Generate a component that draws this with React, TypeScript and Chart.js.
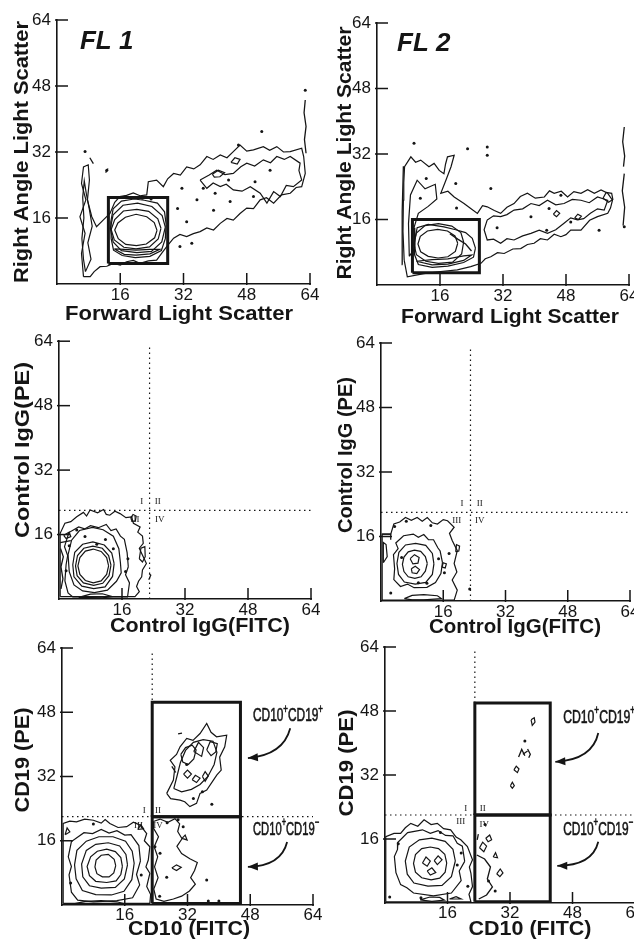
import React, { useEffect, useRef } from 'react';
import { Chart, registerables } from 'chart.js';

Chart.register(...registerables);

type Pt = [number, number];

const INK = '#151515';
const SANS = '"Liberation Sans", Arial, Helvetica, sans-serif';
const NARROW = '"Liberation Sans Narrow", "Liberation Sans", Arial, sans-serif';

const tickValues = [16, 32, 48, 64];
const axisMin = 0;
const axisMax = 64;
const quadX = 23;
const quadY = 22;
const quadNames = ['I', 'II', 'III', 'IV'];

// ---------------- FL 1 : forward vs right-angle scatter ----------------
const fl1Contours: Pt[][] = [
  [[6.7,1.8],[6.2,7.4],[7.1,12.3],[5.8,16.3],[7.3,20.4],[6.2,24.4],[6.7,28.4],[7.9,28.9],[8.2,25.2],[7.7,20.4],[8.8,16.3],[10.0,13.9],[11.8,15.6],[13.4,17.1],[14.6,19.8],[15.9,21.2],[17.6,21.5],[19.3,22.1],[21.0,21.4],[22.7,21.6],[23.1,24.8],[25.2,25.2],[26.9,23.6],[28.0,25.5],[29.5,26.8],[31.2,26.4],[32.8,28.4],[34.6,27.9],[36.2,28.9],[37.9,30.9],[39.5,30.2],[41.3,31.3],[43.0,30.6],[44.6,32.1],[46.3,33.7],[48.0,32.2],[49.7,32.5],[52.2,33.3],[53.8,32.4],[55.6,33.3],[57.3,32.0],[59.0,32.1],[61.9,32.9],[62.4,30.9],[62.8,26.8],[61.9,23.6],[60.5,23.4],[59.0,22.0],[56.8,21.6],[54.8,19.6],[53.0,20.9],[51.4,20.4],[49.7,18.3],[48.0,18.4],[46.3,17.1],[44.6,15.5],[43.0,15.9],[41.3,14.7],[39.6,13.1],[37.9,13.6],[36.2,12.7],[34.5,12.2],[32.8,11.5],[31.1,12.0],[29.5,11.1],[27.8,9.1],[26.6,7.6],[25.2,5.8],[23.1,5.6],[21.0,5.0],[19.3,5.7],[17.6,5.4],[16.0,4.6],[14.3,5.0],[12.6,4.3],[10.9,4.2],[9.4,3.0],[8.4,1.8]],
  [[36.2,25.2],[38.5,26.4],[40.4,27.6],[42.5,26.5],[44.6,26.8],[46.5,28.4],[48.0,29.3],[50.0,28.6],[52.2,30.1],[54.0,29.4],[55.6,30.9],[57.5,30.2],[59.0,30.9],[61.5,29.3],[61.2,27.5],[61.9,25.2],[59.8,23.6],[58.0,23.9],[56.5,21.2],[54.8,22.4],[53.1,19.6],[51.4,22.0],[48.9,23.6],[46.8,22.5],[44.6,22.8],[42.8,24.2],[41.3,23.6],[39.5,24.5],[37.9,23.2]],
  [[39.3,26.6],[40.8,27.6],[42.4,27.0],[41.2,26.0],[39.8,25.9]],
  [[44.0,29.5],[45.0,30.6],[46.3,30.2],[45.6,29.1]],
  [[7.2,3.0],[8.6,6.0],[7.8,10.0],[8.9,14.0],[8.2,18.0],[7.4,22.0],[6.9,25.0],[6.5,21.0],[6.8,16.0],[6.3,11.0],[6.7,6.0]],
  [[27.6,14.5],[27.2,17.5],[25.4,19.6],[22.1,20.3],[19.5,20.6],[16.3,20.1],[14.2,18.2],[13.6,15.0],[13.7,11.0],[14.3,8.2],[16.5,6.9],[19.8,6.4],[23.5,6.7],[26.4,8.1],[27.4,11.0]],
  [[27.4,13.8],[26.6,16.6],[24.0,18.8],[20.4,19.6],[16.7,19.1],[14.2,16.8],[13.5,13.5],[14.2,10.2],[16.3,8.1],[20.2,7.6],[23.9,7.9],[26.5,10.2]],
  [[26.3,13.5],[25.5,15.8],[23.2,17.6],[20.2,18.1],[16.8,17.7],[14.6,15.6],[13.7,13.2],[14.5,10.7],[16.9,8.9],[20.0,8.5],[23.4,9.0],[25.6,10.9]],
  [[25.3,13.0],[24.6,14.9],[22.7,16.3],[20.0,16.9],[17.3,16.2],[15.4,14.8],[14.6,13.1],[15.5,11.0],[17.4,9.6],[20.1,9.3],[22.6,9.7],[24.7,11.2]],
  [[14.5,8.5],[17.0,7.2],[20.0,7.0],[23.5,7.3],[26.0,8.4],[23.5,8.4],[20.0,8.2],[17.0,8.4]],
];
const fl1Lines: Pt[][] = [
  [[62.8,44.6],[62.5,41.5],[63.0,38.2],[62.6,35.0],[63.0,31.7]],
  [[8.3,30.6],[9.2,29.2]],
  [[12.3,27.0],[12.9,28.0]],
];
const fl1Dots: Pt[] = [[62.8,47],[51.8,37],[45.9,33.7],[31.6,23.2],[37,23.2],[40,22],[35.4,20.4],[43.8,20],[39.6,17.9],[32.8,15.1],[31.1,9.1],[34.1,9.9],[43.4,25.2],[50.1,24.8],[53.9,27.6],[49.7,21.2],[7.1,32.1],[12.6,27.6],[30.5,18.3],[21.6,20.8],[23.8,20.6]];
const fl1Gate: Pt[] = [[13, 5], [28, 21]];

// ---------------- FL 2 : forward vs right-angle scatter ----------------
const fl2Contours: Pt[][] = [
  [[6.9,6.1],[6.6,13.0],[6.7,20.7],[6.8,25.0],[7.0,28.9],[8.6,31.3],[9.8,30.0],[11.1,30.5],[13.2,28.9],[14.5,29.7],[15.8,28.0],[17.0,27.2],[17.4,29.5],[17.9,31.3],[19.6,31.7],[18.8,28.9],[17.5,25.6],[16.2,22.4],[18.0,22.9],[19.6,21.5],[22.1,19.9],[23.8,18.7],[25.5,17.5],[26.8,19.4],[28.0,19.1],[29.8,18.2],[31.4,17.5],[33.0,19.0],[34.8,19.9],[36.4,21.6],[38.2,22.4],[40.2,21.2],[42.5,21.5],[43.8,23.0],[45.0,22.4],[46.8,22.9],[48.4,21.5],[50.0,22.8],[51.8,22.4],[53.5,23.3],[55.2,22.4],[56.9,23.2],[58.6,22.4],[59.8,20.7],[59.3,18.8],[58.6,17.5],[56.0,16.7],[54.0,15.8],[51.8,13.4],[49.2,13.4],[48.0,12.3],[46.7,11.8],[45.0,12.4],[43.3,11.0],[41.5,11.3],[39.9,10.2],[38.2,9.9],[36.5,8.9],[34.5,8.8],[32.3,7.7],[30.6,7.9],[28.9,6.9],[27.5,6.4],[26.4,5.3],[23.8,4.5],[20.4,3.7],[16.2,3.3],[11.9,2.8],[7.7,2.0]],
  [[8.2,7.0],[8.0,15.0],[8.5,22.0],[10.2,25.6],[12.2,23.5],[14.8,24.6],[15.2,21.0],[13.0,19.2],[10.5,17.5],[9.4,14.0],[9.6,9.0]],
  [[28.0,15.9],[29.6,16.9],[31.4,16.7],[33.0,17.2],[34.8,18.3],[37.0,18.6],[39.1,19.9],[41.2,19.4],[43.3,20.7],[45.4,19.6],[47.5,19.9],[49.6,20.9],[51.8,20.7],[53.9,20.1],[56.0,21.5],[58.6,20.7],[57.7,18.3],[56.0,18.6],[54.2,17.5],[52.5,16.2],[50.9,15.9],[49.2,16.4],[47.5,15.1],[45.4,13.5],[43.3,12.6],[41.2,13.4],[39.1,12.6],[37.0,12.0],[34.8,11.0],[33.0,11.3],[31.4,10.2],[29.6,11.2],[28.0,11.0],[27.2,13.5]],
  [[57.4,21.2],[58.2,22.6],[59.6,22.4],[59.9,20.9],[58.8,20.2]],
  [[50.2,16.4],[51.0,17.3],[51.9,16.8],[51.2,16.0]],
  [[44.8,17.3],[45.6,18.2],[46.4,17.5],[45.6,16.7]],
  [[25.0,9.0],[24.2,11.4],[22.5,12.8],[20.0,13.5],[17.0,14.2],[13.0,14.8],[10.2,14.0],[9.6,11.0],[9.5,7.5],[10.5,5.0],[14.0,4.3],[18.0,4.6],[22.0,5.5],[24.5,6.8]],
  [[22.0,10.5],[21.3,12.8],[19.0,14.4],[15.6,15.0],[12.2,14.5],[10.0,12.7],[9.4,10.0],[10.0,7.4],[12.4,5.8],[15.6,5.3],[19.2,5.6],[21.5,7.6]],
  [[20.5,10.2],[19.8,12.0],[17.9,13.2],[15.4,13.6],[12.8,13.2],[11.0,11.9],[10.4,10.0],[11.1,8.1],[13.0,7.0],[15.5,6.6],[18.0,6.9],[19.9,8.2]],
  [[10.0,5.8],[14.0,4.9],[18.0,5.1],[22.0,6.0],[24.0,7.3],[22.0,7.1],[18.0,6.4],[14.0,6.2]],
];
const fl2Lines: Pt[][] = [
  [[62.8,38.6],[62.4,35.0],[62.9,31.5],[62.6,28.9]],
  [[62.8,27.2],[62.3,23.0],[62.9,19.0],[62.5,14.5]],
  [[6.5,5.0],[6.4,18.0],[6.7,29.0]],
  [[18.5,12.5],[20.5,11.2],[22.5,10.0],[24.0,8.3]],
];
const fl2Dots: Pt[] = [[23,33.3],[28,33.7],[28,31.7],[20,24.8],[28.9,23.6],[46.7,21.9],[56.4,13.4],[43.1,13.4],[39.1,16.7],[62.8,14.2],[49.2,15.4],[43.7,18.7],[9.4,34.6],[12.5,26],[11,21.2],[20.2,18.8],[30.5,14]];
const fl2Gate: Pt[] = [[9, 3], [26, 16]];

// ---------------- Control IgG, FL 1 ----------------
const ctl1Contours: Pt[][] = [
  [[0.3,0.6],[0.3,16.3],[1.5,18.8],[3.0,19.2],[4.5,20.4],[6.2,21.5],[7.0,20.6],[7.9,22.1],[9.8,21.4],[11.3,22.2],[12.0,21.0],[12.9,20.8],[14.2,21.8],[15.5,21.2],[17.0,20.2],[18.4,20.4],[18.9,18.8],[20.6,17.9],[20.0,16.6],[21.2,15.6],[21.4,13.8],[20.4,12.6],[21.0,11.3],[22.2,8.8],[21.2,7.2],[21.0,5.5],[20.2,4.4],[19.7,3.1],[20.4,1.8],[19.3,0.6]],
  [[17.6,8.0],[17.3,11.5],[16.6,14.8],[15.6,15.6],[14.5,17.4],[13.2,17.0],[12.0,18.5],[10.0,17.7],[8.0,18.2],[6.5,17.4],[5.0,17.9],[2.5,16.5],[1.4,13.0],[2.2,10.8],[1.8,8.5],[1.5,4.5],[2.3,1.5],[3.5,0.5],[17.4,0.5],[17.9,4.0],[16.9,6.0]],
  [[15.6,9.0],[15.2,12.5],[13.8,15.6],[11.2,17.2],[8.5,17.8],[5.2,17.0],[3.2,14.6],[2.3,11.0],[2.6,6.8],[3.8,3.5],[6.0,2.0],[9.0,1.6],[12.3,2.2],[14.6,4.4],[15.8,6.5]],
  [[14.0,8.8],[13.4,11.4],[11.5,13.4],[8.6,14.2],[6.0,13.6],[4.0,11.6],[3.5,8.5],[3.8,5.5],[5.8,3.2],[8.8,2.6],[11.7,3.0],[13.6,5.6]],
  [[13.2,8.4],[12.6,10.8],[11.0,12.6],[8.6,13.1],[6.3,12.6],[4.7,10.8],[4.2,8.2],[4.6,5.8],[6.2,4.0],[8.8,3.4],[11.1,3.9],[12.7,5.8]],
  [[12.6,8.2],[12.1,10.3],[10.7,11.8],[8.7,12.4],[6.7,11.9],[5.3,10.3],[4.8,8.2],[5.3,6.1],[6.7,4.6],[8.7,4.0],[10.7,4.5],[12.1,6.1]],
  [[5.0,0.4],[8.0,1.2],[11.0,1.3],[13.5,0.6],[11.0,0.3],[8.0,0.35]],
  [[18.2,20.1],[18.8,21.0],[19.6,20.6],[19.4,19.4],[18.6,19.3]],
  [[20.4,10.0],[20.8,12.6],[21.8,13.0],[21.9,10.5],[21.2,9.2]],
  [[1.2,15.8],[2.6,16.6],[3.0,15.5],[1.8,15.0]],
];
const ctl1Lines: Pt[][] = [
  [[0.5,2.5],[1.0,5.0],[0.5,8.0],[1.1,10.5],[0.4,12.5]],
  [[0.3,14.0],[3.0,14.5]],
  [[22.8,4.8],[23.3,5.9],[22.9,6.3]],
];
const ctl1Dots: Pt[] = [[1.8,7],[16.9,6.8],[13.8,12.5],[11.8,14.8],[6.6,15.5],[4.5,17.1],[17.5,10],[2.6,13.2],[9.6,13.6]];

// ---------------- Control IgG, FL 2 ----------------
const ctl2Contours: Pt[][] = [
  [[0.3,0.2],[0.3,16.6],[2.5,16.6],[3.3,19.1],[4.8,19.6],[6.3,20.7],[7.8,20.0],[9.3,20.7],[10.6,19.8],[11.9,20.7],[13.2,19.4],[14.5,19.1],[16.0,20.2],[17.1,19.9],[18.8,18.3],[17.6,16.8],[18.3,15.0],[19.6,12.5],[18.8,9.3],[19.5,7.2],[18.3,5.2],[19.6,2.7],[18.8,0.2]],
  [[15.8,9.5],[15.2,12.4],[14.6,13.2],[13.5,15.2],[12.2,15.2],[11.0,16.5],[9.6,15.8],[8.3,16.6],[5.8,16.2],[3.8,14.4],[4.4,13.0],[3.2,11.5],[3.5,8.0],[3.3,5.3],[5.0,3.6],[6.8,4.2],[8.5,3.3],[11.8,3.4],[14.0,4.6],[15.4,6.8]],
  [[13.6,9.2],[13.2,11.8],[11.5,13.8],[8.9,14.3],[6.3,13.9],[4.6,12.1],[4.1,9.3],[4.5,6.6],[6.0,4.7],[8.8,4.2],[11.5,4.6],[13.2,6.6]],
  [[11.9,9.3],[11.4,11.0],[10.2,12.3],[8.6,12.6],[7.0,12.2],[5.9,10.9],[5.5,9.1],[5.9,7.3],[7.0,6.0],[8.7,5.6],[10.3,6.0],[11.4,7.4]],
  [[7.5,10.5],[8.6,11.5],[9.8,10.8],[9.5,9.4],[8.2,9.2]],
  [[7.8,8.0],[8.8,8.6],[9.9,7.8],[9.2,6.8],[8.0,7.0]],
  [[6.0,0.6],[8.0,1.4],[11.0,1.6],[14.5,1.3],[15.5,0.6],[11.0,0.3],[8.0,0.3]],
  [[15.7,8.4],[16.0,9.5],[16.8,9.2],[16.5,8.2]],
  [[19.2,12.2],[19.4,14.0],[20.2,13.6],[20.0,12.4]],
  [[0.6,9.5],[1.6,11.0],[1.3,14.0],[0.6,14.5]],
];
const ctl2Lines: Pt[][] = [
  [[0.3,16.6],[2.5,16.6],[2.5,15.2]],
];
const ctl2Dots: Pt[] = [[2.5,2],[3.5,18.5],[6.5,19.8],[12.8,18.7],[17.5,11.8],[14.8,10.5],[16.3,7],[5.3,10.8],[22.8,3],[9.6,4.5],[11.8,4.4]];

// ---------------- CD10 / CD19, FL 1 ----------------
const cd1Contours: Pt[][] = [
  [[0.3,0.4],[0.3,20.3],[2.0,20.9],[3.7,20.7],[5.8,21.4],[8.0,21.1],[10.0,20.4],[11.0,21.3],[12.2,20.3],[14.3,19.3],[16.5,19.5],[18.2,20.6],[19.9,19.9],[21.6,17.8],[21.0,16.0],[22.4,14.5],[22.0,11.2],[21.4,9.5],[22.4,7.9],[21.6,4.6],[22.6,2.6],[22.4,0.4]],
  [[20.0,11.0],[19.6,14.8],[17.6,17.5],[16.0,17.4],[14.0,18.5],[12.0,17.9],[10.0,18.8],[7.8,17.8],[5.6,18.0],[2.4,15.8],[1.6,12.0],[2.4,9.6],[1.8,7.5],[2.4,3.2],[4.0,1.2],[8.0,0.8],[14.0,1.1],[18.0,1.8],[19.8,5.0],[19.0,7.6]],
  [[18.4,10.4],[17.9,13.4],[16.2,15.9],[13.0,17.0],[9.4,17.0],[6.2,15.9],[3.8,13.6],[3.2,10.0],[3.6,6.5],[5.2,3.6],[8.6,2.6],[12.6,2.5],[15.8,3.4],[17.8,6.3]],
  [[16.7,10.0],[16.3,12.6],[14.7,14.7],[11.8,15.5],[8.6,15.1],[6.2,13.6],[5.0,10.2],[5.3,7.0],[7.0,4.8],[10.0,4.2],[13.6,4.4],[15.9,6.5]],
  [[15.4,9.6],[15.0,11.8],[13.6,13.3],[11.4,13.9],[9.0,13.4],[7.3,12.0],[6.4,9.6],[7.0,7.3],[8.6,5.9],[11.4,5.6],[13.8,6.0],[15.0,7.6]],
  [[13.7,9.8],[13.3,11.4],[11.8,12.6],[10.0,12.4],[8.7,11.2],[8.4,9.5],[8.9,7.8],[10.3,7.0],[12.0,7.0],[13.2,8.0]],
  [[3.0,0.3],[6.0,0.9],[10.0,1.1],[14.0,0.8],[16.0,0.3]],
  [[0.8,17.5],[1.3,19.2],[2.0,18.2]],
  [[19.3,18.8],[20.1,20.0],[20.8,19.0]],
  [[23.3,20.8],[25.0,21.4],[27.0,20.6],[28.8,21.5],[30.0,20.2],[29.5,18.3],[30.6,16.5],[29.3,14.6],[30.5,12.8],[32.6,11.5],[34.5,10.6],[33.8,8.6],[32.8,6.8],[34.0,5.2],[32.5,3.5],[30.5,2.2],[28.4,1.5],[26.0,0.9],[24.0,1.5],[23.4,4.0],[24.5,6.8],[23.6,9.5],[24.4,12.0],[23.5,14.5],[24.6,17.0],[23.4,19.0]],
  [[28.0,9.2],[29.2,10.0],[30.4,9.4],[29.2,8.6]],
  [[30.6,16.6],[31.4,17.4],[31.9,16.2]],
  [[26.7,27.8],[28.4,31.1],[28.8,34.4],[27.6,36.0],[29.2,37.5],[30.1,39.4],[31.8,41.5],[33.4,41.0],[35.2,42.7],[36.9,45.2],[38.0,43.0],[39.4,41.9],[42.0,42.3],[41.5,39.4],[40.2,36.8],[40.6,33.6],[39.5,32.4],[38.6,31.1],[36.9,28.6],[35.2,27.8],[34.3,25.3],[32.6,24.5],[31.3,25.7],[30.1,26.1],[27.7,26.5]],
  [[28.5,29.0],[29.3,32.0],[30.2,35.5],[31.5,38.5],[33.5,40.5],[36.0,41.2],[38.5,40.8],[39.5,38.0],[38.8,35.0],[37.2,32.0],[35.2,30.0],[33.0,28.8],[30.5,28.2]],
  [[30.3,37.5],[31.5,39.2],[33.2,39.8],[34.2,38.6],[33.6,36.4],[32.2,35.0],[30.8,35.6]],
  [[33.6,38.2],[34.8,40.5],[36.1,39.2],[35.6,37.0]],
  [[36.9,38.6],[37.8,40.7],[39.6,40.2],[39.2,38.1],[38.0,37.2]],
  [[31.0,32.6],[32.0,33.6],[33.0,32.6],[32.0,31.6]],
  [[33.2,31.2],[34.0,32.3],[35.2,31.6],[34.3,30.5]],
  [[35.8,32.0],[36.5,33.2],[37.3,32.1],[36.5,30.8]],
];
const cd1Lines: Pt[][] = [
  [[29.6,42.6],[30.6,42.8]],
  [[28.0,34.5],[29.0,33.0]],
];
const cd1Dots: Pt[] = [[8,20.2],[23.7,14.5],[25,12.9],[30.9,19.5],[36.9,6.2],[37.3,1],[40,1],[24.9,2.2],[26.7,6.9],[35.8,28.2],[38.2,25.1],[31.8,35],[33.5,26.5],[26.8,20.5],[29.6,21.2],[2.2,5.5],[20.2,7.5]];
const cd1UpperGate: Pt[] = [[23, 22], [45.5, 50.5]];
const cd1LowerGate: Pt[] = [[23, 0.4], [45.5, 22]];

// ---------------- CD10 / CD19, FL 2 ----------------
const cd2Contours: Pt[][] = [
  [[0.2,0.3],[0.2,16.6],[2.3,17.4],[4.0,17.4],[5.2,18.8],[6.6,19.9],[8.4,19.2],[10.0,20.8],[11.8,19.6],[13.4,19.9],[15.0,18.6],[16.8,18.3],[18.2,16.5],[19.4,15.8],[21.1,14.1],[22.4,10.8],[21.6,9.0],[22.0,7.4],[22.4,4.1],[21.5,2.2],[22.0,0.3]],
  [[20.4,10.4],[19.8,14.2],[18.5,14.9],[17.4,16.8],[15.5,16.9],[13.6,18.1],[11.6,17.4],[9.6,18.3],[5.8,17.6],[3.3,15.2],[3.2,13.4],[2.4,11.6],[2.8,7.6],[4.0,4.6],[5.6,3.8],[7.3,2.5],[12.4,1.8],[17.0,2.5],[19.5,5.6],[19.0,8.0]],
  [[18.0,10.5],[17.4,13.4],[15.4,15.4],[12.0,16.2],[8.8,15.8],[6.2,14.0],[5.2,10.5],[5.7,7.2],[7.4,5.0],[11.0,4.2],[14.6,4.4],[17.0,6.6]],
  [[15.8,10.0],[15.3,12.2],[13.7,13.6],[11.6,14.0],[9.4,13.6],[7.8,12.1],[7.3,9.9],[7.8,7.7],[9.4,6.3],[11.8,5.8],[14.0,6.2],[15.4,7.7]],
  [[9.6,10.0],[10.5,11.5],[11.6,10.5],[10.8,9.2]],
  [[12.6,10.6],[13.6,11.8],[14.6,10.8],[13.4,9.6]],
  [[10.8,8.0],[12.0,8.8],[13.0,7.6],[11.6,7.0]],
  [[9.0,0.8],[11.5,1.5],[14.0,1.4],[15.2,0.7],[12.0,0.4]],
  [[16.5,1.0],[18.2,1.6],[19.5,1.0]],
  [[24.2,13.8],[25.0,15.2],[26.0,14.2],[25.3,12.8]],
  [[25.8,16.2],[26.8,17.0],[27.3,15.8],[26.4,15.3]],
  [[28.6,7.3],[29.5,8.5],[30.2,7.5],[29.4,6.6]],
  [[27.7,11.5],[28.3,12.6],[28.8,11.3]],
  [[32.1,29.3],[32.6,30.2],[33.1,29.3],[32.6,28.7]],
  [[33.0,33.3],[33.6,34.2],[34.3,33.5],[33.9,32.6]],
  [[37.4,45.8],[38.2,46.3],[38.4,45.2],[37.7,44.4]],
];
const cd2Lines: Pt[][] = [
  [[23.5,12.0],[25.5,11.0],[27.0,9.0],[26.2,6.0],[27.5,4.0],[26.0,2.0],[24.0,1.0]],
  [[34.2,36.5],[35.0,38.4],[35.8,36.8]],
  [[35.3,37.2],[36.5,38.0]],
  [[36.5,38.5],[37.2,37.2],[36.8,36.3]],
  [[23.6,15.8],[23.9,17.2]],
];
const cd2Dots: Pt[] = [[35.8,40.5],[1.2,1.5],[3.4,14.8],[14.2,17.6],[19.5,12.5],[21.2,4.2],[26.5,5.5],[28.2,3.0],[25.6,19.6],[9.2,1.3],[18.5,9.5]];
const cd2UpperGate: Pt[] = [[23, 22], [42.3, 50]];
const cd2LowerGate: Pt[] = [[23, 0.3], [42.3, 22]];

// ---------------- panel layout ----------------
interface TitleSpec { text: string; cx: number; cy: number; len: number; }
interface NoteSpec { sign: string; at: Pt; width: number; arrow: Pt[]; }
interface Panel {
  canvas: [number, number, number, number];
  area: [number, number, number, number];
  contours: Pt[][];
  lines: Pt[][];
  dots: Pt[];
  gates: Pt[][];
  quadrant: boolean;
  quadPos?: Pt[];
  xTitle: TitleSpec;
  yTitle: TitleSpec;
  tag?: { text: string; at: Pt };
  notes?: NoteSpec[];
  tickPadX: number;
}

const panels: Panel[] = [
  {
    canvas: [0, 0, 340, 330], area: [57, 20, 310, 284],
    contours: fl1Contours, lines: fl1Lines, dots: fl1Dots, gates: [fl1Gate], quadrant: false,
    xTitle: { text: 'Forward Light Scatter', cx: 179, cy: 314, len: 228 },
    yTitle: { text: 'Right Angle Light Scatter', cx: 22, cy: 152, len: 262 },
    tag: { text: 'FL 1', at: [5.8, 58.7] }, tickPadX: 1,
  },
  {
    canvas: [318, 0, 340, 330], area: [377, 23, 629, 285],
    contours: fl2Contours, lines: fl2Lines, dots: fl2Dots, gates: [fl2Gate], quadrant: false,
    xTitle: { text: 'Forward Light Scatter', cx: 510, cy: 317, len: 218 },
    yTitle: { text: 'Right Angle Light Scatter', cx: 345, cy: 153, len: 253 },
    tag: { text: 'FL 2', at: [5.1, 59] }, tickPadX: 1,
  },
  {
    canvas: [0, 325, 340, 320], area: [59, 341, 311, 599],
    contours: ctl1Contours, lines: ctl1Lines, dots: ctl1Dots, gates: [], quadrant: true,
    quadPos: [[21, 24.1], [25.1, 24.1], [19.3, 19.6], [25.6, 19.6]],
    xTitle: { text: 'Control IgG(FITC)', cx: 200, cy: 626, len: 180 },
    yTitle: { text: 'Control IgG(PE)', cx: 23, cy: 450, len: 176 }, tickPadX: 1,
  },
  {
    canvas: [318, 325, 340, 320], area: [381, 343, 630, 601],
    contours: ctl2Contours, lines: ctl2Lines, dots: ctl2Dots, gates: [], quadrant: true,
    quadPos: [[20.8, 24.1], [25.4, 24.1], [19.5, 20], [25.4, 20]],
    xTitle: { text: 'Control IgG(FITC)', cx: 515, cy: 627, len: 172 },
    yTitle: { text: 'Control IgG (PE)', cx: 346, cy: 455, len: 156 }, tickPadX: 1,
  },
  {
    canvas: [0, 630, 340, 310], area: [62, 648, 313, 905],
    contours: cd1Contours, lines: cd1Lines, dots: cd1Dots, gates: [cd1UpperGate, cd1LowerGate], quadrant: true,
    quadPos: [[21, 23.5], [24.5, 23.5], [19.5, 19.8], [24.5, 19.8]],
    xTitle: { text: 'CD10 (FITC)', cx: 189, cy: 929, len: 122 },
    yTitle: { text: 'CD19 (PE)', cx: 23, cy: 760, len: 105 }, tickPadX: 0,
    notes: [
      { sign: '+', at: [48.7, 47.0], width: 70, arrow: [[58.2, 44.0], [56.4, 37.3], [47.4, 36.6]] },
      { sign: '\u2212', at: [48.7, 18.7], width: 66, arrow: [[57.4, 15.7], [55.9, 9.7], [47.4, 9.5]] },
    ],
  },
  {
    canvas: [318, 630, 340, 310], area: [385, 647, 635, 903],
    contours: cd2Contours, lines: cd2Lines, dots: cd2Dots, gates: [cd2UpperGate, cd2LowerGate], quadrant: true,
    quadPos: [[20.7, 23.7], [25, 23.7], [19.4, 20.3], [25.4, 19.5]],
    xTitle: { text: 'CD10 (FITC)', cx: 530, cy: 929, len: 123 },
    yTitle: { text: 'CD19 (PE)', cx: 347, cy: 763, len: 107 }, tickPadX: 0,
    notes: [
      { sign: '+', at: [45.6, 46.3], width: 72, arrow: [[54.6, 42.5], [53.1, 35.8], [43.6, 35.3]] },
      { sign: '\u2212', at: [45.6, 18.3], width: 70, arrow: [[54.6, 15.3], [53.1, 9.3], [44.1, 9.3]] },
    ],
  },
];

// ---------------- helpers ----------------
const toXY = (pts: Pt[]) => pts.map(([x, y]) => ({ x, y }));
const closeLoop = (pts: Pt[]): Pt[] => [...pts, pts[0]];
const gateOutline = (g: Pt[]): Pt[] => {
  const [[x0, y0], [x1, y1]] = g;
  return [[x0, y0], [x1, y0], [x1, y1], [x0, y1], [x0, y0]];
};

function stretchText(ctx: CanvasRenderingContext2D, t: TitleSpec, ox: number, oy: number, vertical: boolean) {
  ctx.save();
  ctx.font = `bold 21px ${SANS}`;
  const w = ctx.measureText(t.text).width;
  ctx.translate(t.cx - ox, t.cy - oy);
  if (vertical) ctx.rotate(-Math.PI / 2);
  ctx.scale(t.len / w, 1);
  ctx.textAlign = 'center';
  ctx.textBaseline = 'middle';
  ctx.fillText(t.text, 0, 0);
  ctx.restore();
}

function cellLabel(ctx: CanvasRenderingContext2D, x: number, y: number, sign: string, width: number) {
  const big = `18px ${NARROW}`;
  const small = `12px ${NARROW}`;
  const parts: [string, string, number][] = [['CD10', big, 0], ['+', small, -7], ['CD19', big, 0], [sign, small, -7]];
  ctx.save();
  let total = 0;
  const ws = parts.map(([t, f]) => { ctx.font = f; const m = ctx.measureText(t).width; total += m; return m; });
  ctx.translate(x, y);
  ctx.scale(width / total, 1);
  ctx.textAlign = 'left';
  ctx.textBaseline = 'middle';
  ctx.lineWidth = 0.6;
  ctx.strokeStyle = INK;
  let cx = 0;
  parts.forEach(([t, f, dy], i) => {
    ctx.font = f;
    ctx.fillText(t, cx, dy);
    ctx.strokeText(t, cx, dy);
    cx += ws[i];
  });
  ctx.restore();
}

function curvedArrow(ctx: CanvasRenderingContext2D, s: { x: number; y: number }, c: { x: number; y: number }, e: { x: number; y: number }) {
  ctx.save();
  ctx.lineWidth = 1.8;
  ctx.beginPath();
  ctx.moveTo(s.x, s.y);
  ctx.quadraticCurveTo(c.x, c.y, e.x, e.y);
  ctx.stroke();
  const ang = Math.atan2(e.y - c.y, e.x - c.x);
  const L = 10, W = 4;
  ctx.beginPath();
  ctx.moveTo(e.x, e.y);
  ctx.lineTo(e.x - L * Math.cos(ang) + W * Math.sin(ang), e.y - L * Math.sin(ang) - W * Math.cos(ang));
  ctx.lineTo(e.x - L * Math.cos(ang) - W * Math.sin(ang), e.y - L * Math.sin(ang) + W * Math.cos(ang));
  ctx.closePath();
  ctx.fill();
  ctx.restore();
}

function buildConfig(p: Panel): any {
  const [cl, ct, cw, ch] = p.canvas;
  const [al, at, ar, ab] = p.area;
  const yw = al - cl;
  const xh = ct + ch - ab;
  const padTop = at - ct;
  const padRight = cl + cw - ar;

  const datasets: any[] = [];
  p.contours.forEach((loop) => datasets.push({
    data: toXY(closeLoop(loop)), showLine: true, borderColor: INK, borderWidth: 1.2,
    pointRadius: 0, tension: 0, fill: false,
  }));
  p.lines.forEach((ln) => datasets.push({
    data: toXY(ln), showLine: true, borderColor: INK, borderWidth: 1.3,
    pointRadius: 0, tension: 0, fill: false,
  }));
  datasets.push({
    data: toXY(p.dots), showLine: false, pointRadius: 1.5, pointBackgroundColor: INK,
    pointBorderWidth: 0, borderColor: INK,
  });
  if (p.quadrant) {
    datasets.push({
      data: toXY([[quadX, axisMin], [quadX, 63]]), showLine: true, borderColor: INK, borderWidth: 1.2,
      borderDash: [1.5, 3.5], pointRadius: 0, tension: 0,
    });
    datasets.push({
      data: toXY([[axisMin, quadY], [axisMax, quadY]]), showLine: true, borderColor: INK, borderWidth: 1.2,
      borderDash: [1.5, 3.5], pointRadius: 0, tension: 0,
    });
  }
  p.gates.forEach((g) => datasets.push({
    data: toXY(gateOutline(g)), showLine: true, borderColor: INK, borderWidth: 3,
    pointRadius: 0, tension: 0, fill: false, borderJoinStyle: 'miter',
  }));

  const tickFont = { family: SANS, size: 17 };
  const setTicks = (s: any) => { s.ticks = tickValues.map((v) => ({ value: v })); };

  const decor = {
    id: 'panelDecor',
    afterDraw(chart: any) {
      const ctx: CanvasRenderingContext2D = chart.ctx;
      const xs = chart.scales.x;
      const ys = chart.scales.y;
      const area = chart.chartArea;
      ctx.save();
      ctx.strokeStyle = INK;
      ctx.fillStyle = INK;
      ctx.lineWidth = 1.5;
      tickValues.forEach((v) => {
        const py = ys.getPixelForValue(v);
        ctx.beginPath(); ctx.moveTo(area.left - 2, py); ctx.lineTo(area.left + 11, py); ctx.stroke();
        const px = xs.getPixelForValue(v);
        ctx.beginPath(); ctx.moveTo(px, area.bottom + 1); ctx.lineTo(px, area.bottom - 11); ctx.stroke();
      });
      stretchText(ctx, p.xTitle, cl, ct, false);
      stretchText(ctx, p.yTitle, cl, ct, true);
      if (p.tag) {
        ctx.font = `italic bold 26px ${SANS}`;
        ctx.textAlign = 'left';
        ctx.textBaseline = 'middle';
        ctx.fillText(p.tag.text, xs.getPixelForValue(p.tag.at[0]), ys.getPixelForValue(p.tag.at[1]));
      }
      if (p.quadPos) {
        ctx.font = `9px "Liberation Serif", serif`;
        ctx.textAlign = 'center';
        ctx.textBaseline = 'middle';
        p.quadPos.forEach(([qx, qy], i) => {
          ctx.fillText(quadNames[i], xs.getPixelForValue(qx), ys.getPixelForValue(qy));
        });
      }
      (p.notes || []).forEach((n) => {
        cellLabel(ctx, xs.getPixelForValue(n.at[0]), ys.getPixelForValue(n.at[1]), n.sign, n.width);
        const [s, c, e] = n.arrow.map(([ax, ay]) => ({ x: xs.getPixelForValue(ax), y: ys.getPixelForValue(ay) }));
        curvedArrow(ctx, s, c, e);
      });
      ctx.restore();
    },
  };

  return {
    type: 'scatter',
    data: { datasets },
    options: {
      animation: false,
      responsive: false,
      maintainAspectRatio: false,
      devicePixelRatio: 1,
      events: [],
      layout: { padding: { top: padTop, right: padRight, left: 0, bottom: 0 } },
      plugins: { legend: { display: false }, tooltip: { enabled: false }, title: { display: false } },
      scales: {
        x: {
          type: 'linear', min: axisMin, max: axisMax,
          afterBuildTicks: setTicks,
          afterFit: (s: any) => { s.height = xh; },
          grid: { display: false, drawTicks: false },
          border: { display: true, color: INK, width: 1.6 },
          ticks: { color: INK, font: tickFont, padding: p.tickPadX, maxRotation: 0, minRotation: 0, autoSkip: false },
        },
        y: {
          type: 'linear', min: axisMin, max: axisMax,
          afterBuildTicks: setTicks,
          afterFit: (s: any) => { s.width = yw; },
          grid: { display: false, drawTicks: false },
          border: { display: true, color: INK, width: 1.6 },
          ticks: { color: INK, font: tickFont, padding: 6, autoSkip: false },
        },
      },
    },
    plugins: [decor],
  };
}

function PanelChart({ p }: { p: Panel }) {
  const ref = useRef<HTMLCanvasElement>(null);
  useEffect(() => {
    const canvas = ref.current;
    if (!canvas) return;
    const chart = new Chart(canvas, buildConfig(p));
    return () => chart.destroy();
  }, [p]);
  const [l, t, w, h] = p.canvas;
  return (
    <canvas
      ref={ref}
      width={w}
      height={h}
      style={{ position: 'absolute', left: l, top: t, width: w, height: h }}
    />
  );
}

export default function App() {
  return (
    <div style={{ position: 'absolute', left: 0, top: 0, width: 634, height: 940, overflow: 'hidden', background: '#fff' }}>
      {panels.map((p, i) => <PanelChart key={i} p={p} />)}
    </div>
  );
}
